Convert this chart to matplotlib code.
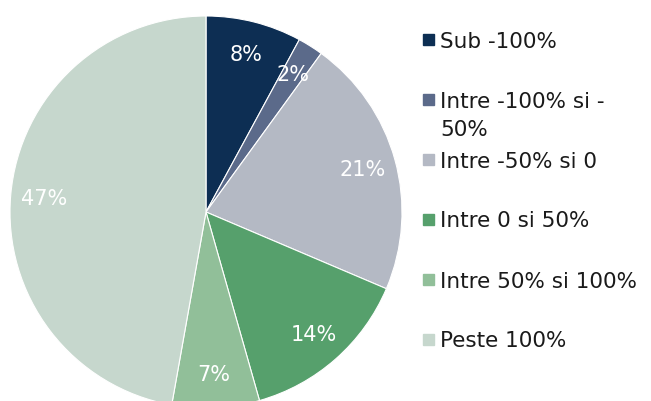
import matplotlib.pyplot as plt
from matplotlib.patches import Rectangle

# share of each band
labels = ['Sub -100%', 'Intre -100% si -\n50%', 'Intre -50% si 0',
          'Intre 0 si 50%', 'Intre 50% si 100%', 'Peste 100%']
shares = [7.9, 2.1, 21.4, 14.2, 7.2, 47.2]
colors = ['#0d2e53', '#5b6a8a', '#b4b9c4', '#56a06c', '#91bf99', '#c6d7cd']

plt.rcParams['font.family'] = ['DejaVu Sans']

fig = plt.figure(figsize=(6.51, 4.02), dpi=100)
W, H = 651, 402
cx, cy, r = 206, 213, 196
ax = fig.add_axes([(cx - r) / W, (H - cy - r) / H, 2 * r / W, 2 * r / H])

wedges, texts, autotexts = ax.pie(
    shares, colors=colors, startangle=90, counterclock=False,
    autopct='%.0f%%', pctdistance=0.83,
    wedgeprops=dict(edgecolor='white', linewidth=0.8),
    textprops=dict(color='white', fontsize=15))
ax.set_xlim(-1, 1)
ax.set_ylim(-1, 1)
ax.set_aspect('equal')

# legend, evenly spaced like the original (wrapped label overflows)
for i, (lab, col) in enumerate(zip(labels, colors)):
    yc = 40 + 60 * i
    fig.patches.append(Rectangle((423 / W, 1 - (yc + 5.5) / H), 11 / W, 11 / H,
                                 transform=fig.transFigure, color=col))
    for j, line in enumerate(lab.split('\n')):
        fig.text(440 / W, 1 - (yc + 7.5 + 28 * j) / H, line, fontsize=15.5,
                 color='#1a1a1a', va='baseline', ha='left')

fig.savefig('out.png', dpi=100)
